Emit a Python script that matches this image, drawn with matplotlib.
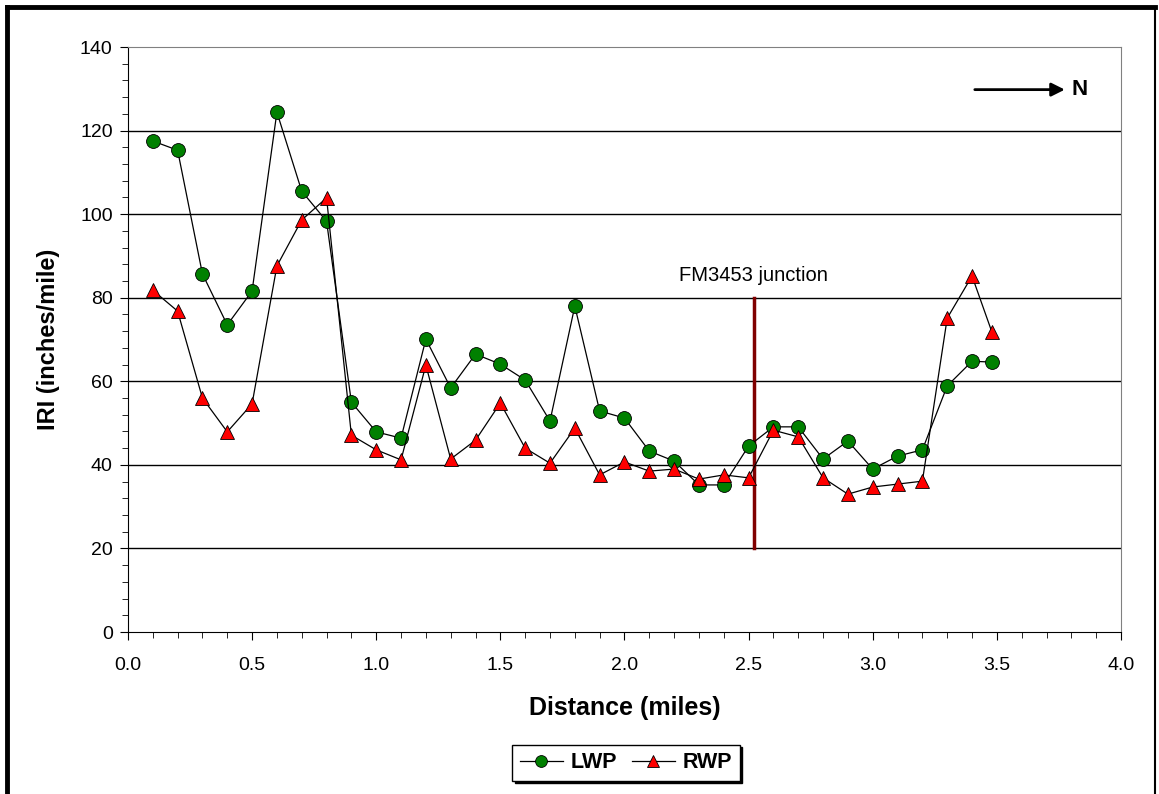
import numpy as np
import matplotlib
matplotlib.use('Agg')
import matplotlib.pyplot as plt
from matplotlib.lines import Line2D
from matplotlib.ticker import MultipleLocator

plt.rcParams['font.family'] = ['Liberation Sans', 'DejaVu Sans']

# distance along the road (miles)
dist = [0.1, 0.2, 0.3, 0.4, 0.5, 0.6, 0.7, 0.8, 0.9, 1.0,
        1.1, 1.2, 1.3, 1.4, 1.5, 1.6, 1.7, 1.8, 1.9, 2.0,
        2.1, 2.2, 2.3, 2.4, 2.5, 2.6, 2.7, 2.8, 2.9, 3.0,
        3.1, 3.2, 3.3, 3.4, 3.48]
# left wheel path IRI
lwp = [117.5, 115.3, 85.7, 73.5, 81.6, 124.4, 105.5, 98.3, 55.0, 47.9,
       46.4, 70.1, 58.4, 66.5, 64.1, 60.3, 50.5, 78.0, 52.9, 51.2,
       43.3, 40.9, 35.2, 35.2, 44.5, 49.1, 49.1, 41.4, 45.7, 39.0,
       42.1, 43.6, 58.9, 64.8, 64.6]
# right wheel path IRI
rwp = [81.8, 76.8, 56.0, 47.9, 54.6, 87.6, 98.6, 103.9, 47.1, 43.6,
       41.2, 63.9, 41.4, 45.9, 54.8, 44.0, 40.4, 48.8, 37.6, 40.7,
       38.5, 39.0, 36.6, 37.6, 36.9, 48.3, 46.7, 36.9, 33.0, 34.7,
       35.4, 36.1, 75.1, 85.2, 71.8]

junction_x = 2.52
junction_y = [20, 80]

fig = plt.figure(figsize=(11.59, 7.94), dpi=100)
ax = fig.add_axes([0.1104, 0.2040, 0.8568, 0.7368])

for yv in range(20, 140, 20):
    ax.axhline(yv, color='black', lw=1.0, zorder=1)

ax.plot(dist, lwp, color='black', lw=0.9, marker='o', ms=10,
        mfc='#008000', mec='black', mew=0.6, label='LWP', zorder=3)
ax.plot(dist, rwp, color='black', lw=0.9, marker='^', ms=10.5,
        mfc='#ff0000', mec='black', mew=0.6, label='RWP', zorder=3)

ax.plot([junction_x, junction_x], junction_y, color='#800000', lw=2.5, zorder=2)
ax.text(junction_x, 83, 'FM3453 junction', ha='center', va='bottom', fontsize=14.5)

ax.set_xlim(0, 4.0)
ax.set_ylim(0, 140)
ax.xaxis.set_major_locator(MultipleLocator(0.5))
ax.xaxis.set_minor_locator(MultipleLocator(0.1))
ax.yaxis.set_major_locator(MultipleLocator(20))
ax.yaxis.set_minor_locator(MultipleLocator(4))
ax.xaxis.set_major_formatter(matplotlib.ticker.FormatStrFormatter('%.1f'))
ax.tick_params(which='both', direction='out', labelsize=14, color='black')
ax.tick_params(which='major', length=6)
ax.tick_params(which='minor', length=4)
ax.tick_params(axis='x', pad=12)
ax.tick_params(axis='y', pad=5)

for s in ['top', 'right']:
    ax.spines[s].set_color('#808080')
ax.spines['left'].set_color('black')
ax.spines['bottom'].set_color('black')

ax.set_xlabel('Distance (miles)', fontsize=18, fontweight='bold', labelpad=16)
ax.set_ylabel('IRI (inches/mile)', fontsize=17, fontweight='bold', labelpad=14)

# north arrow
ax.annotate('', xy=(3.785, 129.8), xytext=(3.40, 129.8),
            arrowprops=dict(arrowstyle='-|>', color='black', lw=2, mutation_scale=20))
ax.text(3.80, 129.8, 'N', ha='left', va='center', fontsize=16, fontweight='bold')

leg = fig.legend(loc='center', bbox_to_anchor=(0.540, 0.0395), ncol=2,
                 prop={'weight': 'bold', 'size': 15.5},
                 frameon=True, fancybox=False, edgecolor='black',
                 shadow={'color': 'black', 'alpha': 1}, handlelength=2.0,
                 handletextpad=0.35, columnspacing=0.7, borderpad=0.35,
                 markerscale=0.85)
leg.get_frame().set_linewidth(1.0)

# outer frame
fig.add_artist(Line2D([0.006, 0.006], [-0.1, 0.991], transform=fig.transFigure,
                      color='black', lw=3.5))
fig.add_artist(Line2D([0.006, 0.9965], [0.991, 0.991], transform=fig.transFigure,
                      color='black', lw=3.5))
fig.add_artist(Line2D([0.9965, 0.9965], [-0.1, 0.991], transform=fig.transFigure,
                      color='black', lw=1.5))

fig.savefig('out.png', dpi=100)
